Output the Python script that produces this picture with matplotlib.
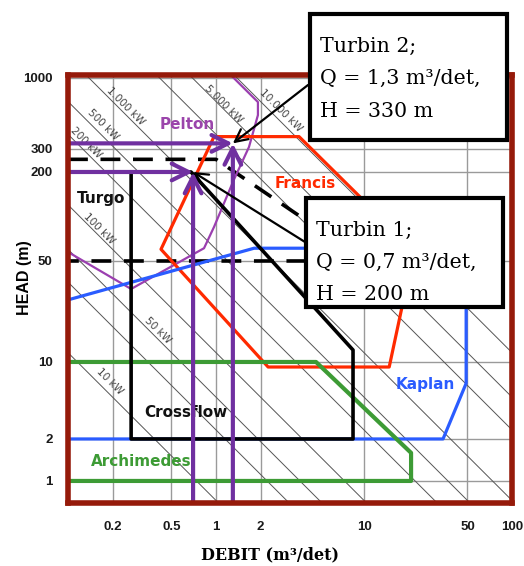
import numpy as np
import matplotlib
matplotlib.use("Agg")
import matplotlib.pyplot as plt
from matplotlib.patches import Rectangle
from matplotlib.ticker import NullLocator

W, H = 524, 566

# axis ticks
x_ticks = [0.2, 0.5, 1, 2, 10, 50, 100]
x_labels = ["0.2", "0.5", "1", "2", "10", "50", "100"]
y_ticks = [1, 2, 10, 50, 200, 300, 1000]
y_labels = ["1", "2", "10", "50", "200", "300", "1000"]

# constant power lines, P = 9.81 * eta * Q * H
power_kw = [10, 30, 50, 100, 300, 500, 1000, 3000, 5000, 10000]
eta = 0.85
power_lbl = ["10 kW", "50 kW", "100 kW", "200 kW", "500 kW", "1.000 kW", "5.000 kW", "10.000 kW"]
power_lbl_q = [0.192, 0.406, 0.162, 0.132, 0.172, 0.243, 1.13, 2.75]
power_lbl_h = [6.7, 16.6, 82, 332, 451, 622, 643, 571]

# turbine envelopes (Q in m3/det, H in m)
pelton_q = [0.1, 0.267, 0.83, 0.97, 1.32, 1.67, 1.92, 1.92, 1.26]
pelton_h = [57.5, 32, 61, 85, 177, 310, 533, 665, 1050]
francis_q = [0.97, 3.64, 21.8, 14.8, 2.25, 0.425, 0.97]
francis_h = [370, 370, 59, 9.0, 9.0, 60, 370]
kaplan_q = [0.1, 1.81, 49, 49, 34.2, 0.1]
kaplan_h = [26.9, 61, 61, 6.4, 2, 2]
archimedes_q = [0.1, 4.74, 20.8, 20.8, 0.1]
archimedes_h = [10, 10, 1.59, 1.0, 1.0]
crossflow_q = [0.267, 0.678, 8.43, 8.43, 0.267, 0.267]
crossflow_h = [200, 200, 12.1, 2, 2, 200]
turgo_q = [0.1, 1.0, 7.5, 7.5, 0.1]
turgo_h = [250, 250, 62, 50, 50]

names = ["Pelton", "Turgo", "Francis", "Kaplan", "Crossflow", "Archimedes"]
name_q = [0.637, 0.115, 3.99, 25.8, 0.627, 0.311]
name_h = [451, 133, 166, 6.3, 3.5, 1.37]

# selected turbines
turb_q = [0.7, 1.3]
turb_h = [200, 330]
turb_txt = [["Turbin 1;", "Q = 0,7 m\u00b3/det,", "H = 200 m"],
            ["Turbin 2;", "Q = 1,3 m\u00b3/det,", "H = 330 m"]]

# head axis of the source chart is not a clean log scale: calibrate it
LOG_A = np.log10([0.1, 1, 2, 10, 50, 200, 300, 1000, 10000])
PIX_A = np.array([620.5, 481, 439, 362, 261, 172, 149, 78, -58])


def fwd(v):
    v = np.clip(np.asarray(v, dtype=float), 1e-6, None)
    return -np.interp(np.log10(v), LOG_A, PIX_A)


def inv(u):
    return 10 ** np.interp(-np.asarray(u, dtype=float), PIX_A[::-1], LOG_A[::-1])


def fig_xy(px, py):
    return px / W, 1 - py / H


purple = "#7030a0"
frame = "#951a0a"

fig = plt.figure(figsize=(W / 100, H / 100), dpi=100)
ax = fig.add_axes([68 / W, (H - 503) / H, 444 / W, 428 / H])
ax.set_xscale("log")
ax.set_yscale("function", functions=(fwd, inv))
ax.set_xlim(0.1, 100)
ax.set_ylim(0.695, 1052)

ax.set_xticks(x_ticks)
ax.set_xticklabels(x_labels)
ax.set_yticks(y_ticks)
ax.set_yticklabels(y_labels)
ax.xaxis.set_minor_locator(NullLocator())
ax.yaxis.set_minor_locator(NullLocator())
ax.tick_params(length=0, labelsize=9.5, labelcolor="#1a1a1a")
ax.tick_params(axis="x", pad=13)
ax.tick_params(axis="y", pad=11)
for lab in ax.get_xticklabels() + ax.get_yticklabels():
    lab.set_fontfamily("Liberation Sans")
    lab.set_fontweight("bold")
ax.grid(True, color="#9a9a9a", lw=1.0, zorder=0)
ax.set_axisbelow(True)
for sp in ax.spines.values():
    sp.set_color(frame)
    sp.set_linewidth(4)
    sp.set_zorder(10)

k = 9.81 * eta
for p in power_kw:
    ax.axline((p / (k * 50), 50), (p / (k * 200), 200), color="#555555", lw=0.7, zorder=1)
for t, q, h in zip(power_lbl, power_lbl_q, power_lbl_h):
    ax.text(q, h, t, rotation=-45, ha="center", va="center", fontsize=7.5,
            color="#444444", rotation_mode="anchor", zorder=2)

ax.plot(turgo_q, turgo_h, color="black", lw=2.6, dashes=(5.5, 3.5), zorder=3)
ax.plot(pelton_q, pelton_h, color="#9b3fb0", lw=1.6, zorder=3)
ax.plot(francis_q, francis_h, color="#ff2a00", lw=2.3, zorder=3)
ax.plot(kaplan_q, kaplan_h, color="#2a5cff", lw=2.3, zorder=3)
ax.plot(archimedes_q, archimedes_h, color="#3d9b35", lw=3, zorder=3)
ax.plot(crossflow_q, crossflow_h, color="black", lw=2.6, zorder=3)

name_col = ["#9b45ab", "#111111", "#ff2a00", "#2a5cff", "#111111", "#3d9b35"]
for n, q, h, c in zip(names, name_q, name_h, name_col):
    ax.text(q, h, n, color=c, fontsize=11, fontweight="bold",
            ha="left" if n == "Turgo" else "center", va="center", zorder=5)

head = "->,head_length=1.2,head_width=0.6"
for q, h in zip(turb_q, turb_h):
    ax.annotate("", xy=(q, h), xytext=(0.1, h),
                arrowprops=dict(arrowstyle=head, color=purple, lw=3, shrinkA=0, shrinkB=0),
                zorder=6)
    ax.annotate("", xy=(q, h), xytext=(q, 0.7),
                arrowprops=dict(arrowstyle=head, color=purple, lw=3, shrinkA=0, shrinkB=0),
                zorder=6)

# annotation boxes (pixel layout of the source)
boxes = [(306, 198, 503, 307), (310, 14, 507, 140)]
arrow_from = [(305, 242), (308, 85)]
for (x0, y0, x1, y1), (ax0, ay0), q, h, lines in zip(boxes, arrow_from, turb_q, turb_h, turb_txt):
    ax.annotate("", xy=(q, h), xytext=fig_xy(ax0, ay0), textcoords="figure fraction",
                arrowprops=dict(arrowstyle="->,head_length=0.9,head_width=0.45",
                                color="black", lw=1.6, shrinkA=0, shrinkB=0),
                zorder=8)
    fig.add_artist(Rectangle(fig_xy(x0, y1), (x1 - x0) / W, (y1 - y0) / H,
                             transform=fig.transFigure, facecolor="white",
                             edgecolor="black", lw=3, zorder=10))
    for i, s in enumerate(lines):
        fig.text(*fig_xy(x0 + 10, y0 + 32 + 32.5 * i), s, fontsize=14.8,
                 family="DejaVu Serif", va="center", ha="left", zorder=11)

fig.text(*fig_xy(270, 555), "DEBIT (m\u00b3/det)", family="DejaVu Serif",
         fontweight="bold", fontsize=11.5, ha="center", va="center")
fig.text(*fig_xy(25, 278), "HEAD (m)", family="Liberation Sans", fontweight="bold",
         fontsize=11.5, rotation=90, ha="center", va="center")

fig.savefig("out.png", dpi=100, facecolor="white")
